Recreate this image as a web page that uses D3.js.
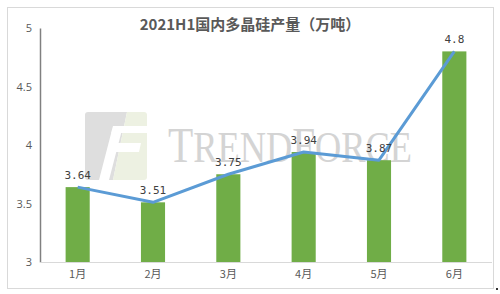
<!DOCTYPE html>
<html><head><meta charset="utf-8">
<script src="https://cdn.jsdelivr.net/npm/d3@7"></script>
<style>body{margin:0;background:#fff}svg{display:block}</style>
</head><body>
<script>
const categories = ["1月","2月","3月","4月","5月","6月"];
const values = [3.64, 3.51, 3.75, 3.94, 3.87, 4.8];
const yTicks = [3, 3.5, 4, 4.5, 5];
const title = "2021H1国内多晶硅产量（万吨）";

const W = 500, H = 294;
const svg = d3.select("body").append("svg").attr("width", W).attr("height", H);
svg.append("rect").attr("x", 7.5).attr("y", 7.5).attr("width", 486).attr("height", 281)
  .attr("fill", "#fff").attr("stroke", "#d9d9d9");
svg.append("rect").attr("x", 496).attr("y", 288).attr("width", 2).attr("height", 2).attr("fill", "#333");

const x = d3.scaleBand().domain(categories).range([40, 492]).paddingInner(0.68).paddingOuter(0.34);
const y = d3.scaleLinear().domain([3, 5]).range([262, 28]);

// watermark
const wm = svg.append("g");
wm.append("path").attr("d", "M88,112 L127,112 L113,180 L88,180 Q85,180 85,177 L85,115 Q85,112 88,112 Z").attr("fill", "#dedede");
wm.append("path").attr("d", "M127,112 L144,112 Q147,112 147,115 L147,177 Q147,180 144,180 L113,180 Z").attr("fill", "#edf1e2");
wm.append("path").attr("d", "M113,126 L147,126 L147,133 L111,133 Z M113,126 L123,126 L109,180 L99,180 Z M117,143 L141,143 L139,152 L114,152 Z").attr("fill", "#fff");
const wt = wm.append("text").attr("x", 168).attr("y", 162).attr("font-family", "Liberation Serif")
  .attr("fill", "#d4d4d4").attr("textLength", 244).attr("lengthAdjust", "spacingAndGlyphs");
wt.append("tspan").attr("font-size", 50).text("T");
wt.append("tspan").attr("font-size", 44).text("REND");
wt.append("tspan").attr("font-size", 50).text("F");
wt.append("tspan").attr("font-size", 44).text("ORCE");

// title
svg.append("text").attr("x", 250).attr("y", 30).attr("text-anchor", "middle")
  .attr("font-family", "Noto Sans CJK SC").attr("font-weight", "bold").attr("font-size", 15)
  .attr("fill", "#595959").text(title);

// y axis
const yAxis = d3.axisLeft(y).tickValues(yTicks).tickSize(0).tickPadding(8).tickFormat(d => String(d));
const ga = svg.append("g").attr("transform", "translate(40,0)").call(yAxis);
ga.select(".domain").attr("stroke", "#808080").attr("stroke-width", 1.5);
ga.selectAll("text").attr("font-family", "Open Sans").attr("font-size", 11).attr("fill", "#595959");

// baseline
svg.append("line").attr("x1", 40).attr("x2", 492).attr("y1", y(3)+0.5).attr("y2", y(3)+0.5).attr("stroke", "#d9d9d9");

// bars
svg.selectAll(".bar").data(values).join("rect").attr("class", "bar")
  .attr("x", (d,i) => x(categories[i])).attr("width", x.bandwidth())
  .attr("y", d => y(d)).attr("height", d => y(3) - y(d)).attr("fill", "#70ad47");

// x axis
const xAxis = d3.axisBottom(x).tickSize(0).tickPadding(8);
const gx = svg.append("g").attr("transform", `translate(0,${y(3)})`).call(xAxis);
gx.select(".domain").remove();
gx.selectAll("text").attr("font-family", "Noto Sans CJK SC").attr("font-size", 11).attr("fill", "#595959");

// line
const line = d3.line().x((d,i) => x(categories[i]) + x.bandwidth()/2).y(d => y(d));
svg.append("path").datum(values).attr("d", line).attr("fill", "none")
  .attr("stroke", "#5b9bd5").attr("stroke-width", 3).attr("stroke-linejoin", "round");

// labels
svg.selectAll(".lbl").data(values).join("text").attr("class", "lbl")
  .attr("x", (d,i) => x(categories[i]) + x.bandwidth()/2).attr("y", d => y(d) - 8)
  .attr("text-anchor", "middle").attr("font-family", "DejaVu Sans Mono").attr("font-size", 11)
  .attr("fill", "#404040").text(d => String(d));
</script>
</body></html>
